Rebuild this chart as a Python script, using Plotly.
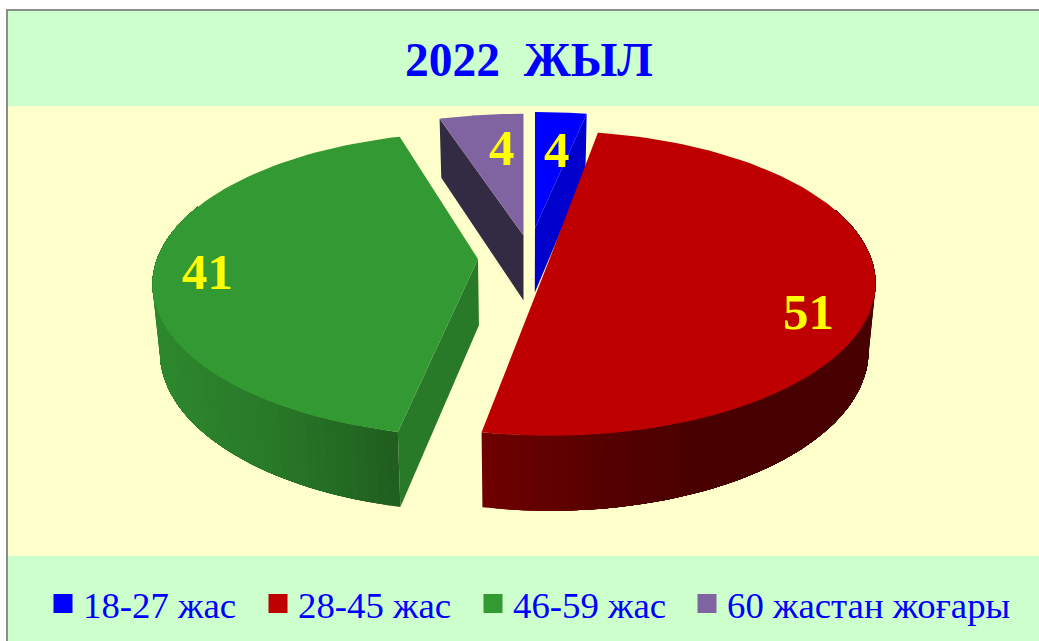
import numpy as np
import plotly.graph_objects as go

# ---- data -------------------------------------------------------------
categories = ["18-27 жас", "28-45 жас", "46-59 жас", "60 жастан жоғары"]
printed_values = [4, 51, 41, 4]          # numbers printed on the slices
slice_shares = [3.0, 50.1, 42.0, 4.9]    # share of the circle each slice occupies in the picture
title_text = "2022  ЖЫЛ"

# ---- style -------------------------------------------------------------
top_colors = [(0, 0, 255), (190, 0, 0), (51, 153, 51), (128, 100, 162)]
cut_colors = [(0, 0, 204), None, (40, 122, 40), (51, 42, 68)]
# brightness of the curved wall against horizontal position
rim_shade = [None, ([482, 600, 700, 875], [0.58, 0.45, 0.38, 0.38]),
             ([170, 280, 398], [0.88, 0.78, 0.62]), None]
apex = [(535, 228), (550, 258), (478, 259), (523.5, 235.5)]
ry_scale = [0.915, 1.0, 1.0, 0.96]
trim_deg = [(0, 0), (-0.8, -0.9), (0.9, 1.2), (0, 0)]     # perspective correction of slice ends
label_pos = [(557, 150), (808, 312), (207, 272), (502, 148)]
legend_x = [43, 258, 473, 687]
draw_order = [3, 0, 2, 1]
RX, RY, K = 321, 148, 0.167
VANISH_X, BOTTOM_SCALE = 525, 0.98
SERIF = "Liberation Serif"
W, H = 1039, 641

edges = np.concatenate([[0], np.cumsum(slice_shares)]) / np.sum(slice_shares) * 2 * np.pi


def rim(i, t):
    cx, cy = apex[i]
    t = np.asarray(t, dtype=float)
    den = 1 + K * np.cos(t)
    return cx + RX * np.sin(t) / den, cy - RY * ry_scale[i] * np.cos(t) / den


def lower(x, y):
    x = np.asarray(x, dtype=float)
    y = np.asarray(y, dtype=float)
    return VANISH_X + (x - VANISH_X) * BOTTOM_SCALE, y + 59 + (y - 119) * 16 / 313


def rgb(c, f=1.0):
    return "rgb(%d,%d,%d)" % tuple(int(round(v * f)) for v in c)


def poly(xs, ys, color):
    xs, ys = list(xs), list(ys)
    return go.Scatter(x=xs + [xs[0]], y=ys + [ys[0]], mode="lines", fill="toself",
                      fillcolor=color, line=dict(width=0),
                      hoverinfo="skip", showlegend=False)


fig = go.Figure()

for i in draw_order:
    t0 = edges[i] + np.radians(trim_deg[i][0])
    t1 = edges[i + 1] + np.radians(trim_deg[i][1])
    ax, ay = apex[i]
    # flat cut wall
    if cut_colors[i] is not None:
        ex, ey = rim(i, t1 if i == 0 else t0)
        bx, by = lower(ex, ey)
        abx, aby = lower(ax, ay)
        fig.add_trace(poly([ax, ex, float(bx), float(abx)], [ay, ey, float(by), float(aby)],
                           rgb(cut_colors[i])))
    # curved outer wall: nested bands painted one over the other, so no seams show
    if rim_shade[i] is not None:
        if i == 1:
            ts = np.linspace(t1, np.radians(70), 60)
        else:
            ts = np.linspace(t0, np.radians(292), 60)
        xp, fp = rim_shade[i]
        for j in range(len(ts) - 1):
            x, y = rim(i, ts[j:])
            bx, by = lower(x, y)
            f = float(np.interp(x[0], xp, fp))
            fig.add_trace(poly(list(x) + list(bx[::-1]), list(y) + list(by[::-1]),
                               rgb(top_colors[i], f)))
    # flat top
    ts = np.linspace(t0, t1, 90)
    x, y = rim(i, ts)
    fig.add_trace(poly([ax] + list(x), [ay] + list(y), rgb(top_colors[i])))

# legend entries
legend_layout = {}
for n, (name, c, lx) in enumerate(zip(categories, top_colors, legend_x)):
    key = "legend" if n == 0 else "legend%d" % (n + 1)
    fig.add_trace(go.Scatter(x=[None], y=[None], mode="markers", name=name, legend=key,
                             marker=dict(symbol="square", size=16, color=rgb(c),
                                         line=dict(color=rgb(c), width=3))))
    legend_layout[key] = dict(orientation="h", x=lx / W, y=1 - 573 / H, xanchor="left", yanchor="top",
                              bgcolor="rgba(0,0,0,0)", itemwidth=30,
                              font=dict(family=SERIF, size=36.8, color="#0000FF"))

shapes = [
    dict(type="rect", x0=7, x1=W + 5, y0=10, y1=H + 5, fillcolor="#CCFFCC",
         line=dict(color="#8C8C8C", width=2), layer="below"),
    dict(type="rect", x0=8, x1=W + 5, y0=106, y1=556, fillcolor="#FFFFCC",
         line=dict(width=0), layer="below"),
]

annotations = [dict(x=529, y=60, xref="x", yref="y", text="<b>%s</b>" % title_text.replace("  ", "\u00a0\u00a0"),
                    showarrow=False, font=dict(family=SERIF, size=47.5, color="#0000FF"))]
for v, (x, y) in zip(printed_values, label_pos):
    annotations.append(dict(x=x, y=y, xref="x", yref="y", text="<b>%d</b>" % v, showarrow=False,
                            font=dict(family=SERIF, size=51, color="#FFFF00")))

fig.update_layout(
    width=W, height=H, margin=dict(l=0, r=0, t=0, b=0),
    paper_bgcolor="white", plot_bgcolor="white",
    xaxis=dict(range=[0, W], visible=False, fixedrange=True),
    yaxis=dict(range=[H, 0], visible=False, fixedrange=True),
    shapes=shapes, annotations=annotations, **legend_layout,
)
fig.write_html("out.html", config={"displayModeBar": False},
               post_script="document.body.style.margin='0';document.body.style.overflow='hidden';")
